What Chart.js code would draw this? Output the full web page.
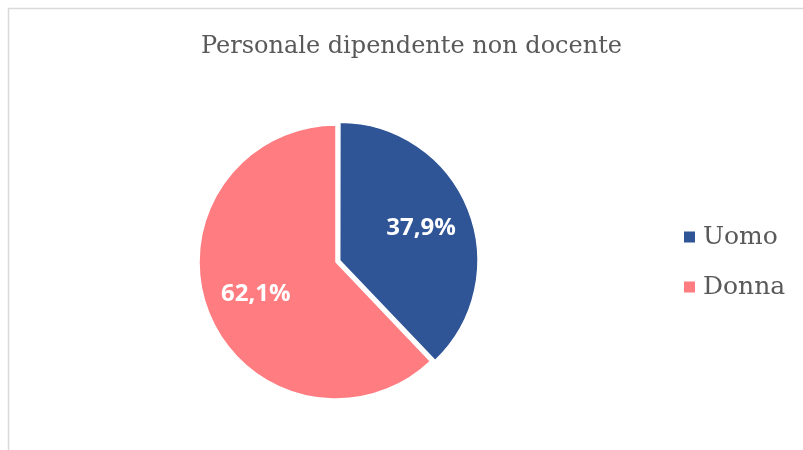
<!DOCTYPE html>
<html lang="it">
<head>
<meta charset="utf-8">
<title>Personale dipendente non docente</title>
<script src="https://cdn.jsdelivr.net/npm/chart.js@4.4.1/dist/chart.umd.min.js"></script>
<style>
  html, body { margin: 0; padding: 0; background: #fff; }
  #wrap { width: 803px; height: 450px; }
</style>
</head>
<body>
<div id="wrap"><canvas id="pie" width="803" height="450"></canvas></div>
<script>
// data
const chartTitle = 'Personale dipendente non docente';
const categories = ['Uomo', 'Donna'];
const shares = [37.9, 62.1];
const sliceColors = ['#2F5597', '#FF7C80'];
// Chart.js moves an arc by roughly a third of its "offset" value
const sliceOffsets = [16, 0];

const SERIF = '"DejaVu Serif", "Liberation Serif", serif';
const TEXT_GREY = '#595959';

function fmtPct(v) {
  return v.toFixed(1).replace('.', ',') + '%';
}

// same shift that ArcElement.draw applies for an offset
function arcShift(offset, circumference) {
  const fix = 1 - Math.sin(Math.min(Math.PI, circumference));
  return (offset / 4) * (1 + fix);
}

// frame, title, legend and slice labels drawn on the canvas
const decorations = {
  id: 'decorations',
  beforeDraw(chart) {
    const ctx = chart.ctx;
    ctx.save();
    ctx.strokeStyle = '#d9d9d9';
    ctx.lineWidth = 1.5;
    ctx.strokeRect(8.5, 8.5, 820, 460);
    ctx.restore();
  },
  afterDraw(chart) {
    const ctx = chart.ctx;
    ctx.save();

    // title
    ctx.fillStyle = TEXT_GREY;
    ctx.font = '24px ' + SERIF;
    ctx.textAlign = 'center';
    ctx.textBaseline = 'alphabetic';
    ctx.fillText(chartTitle, 411.5, 53);

    // legend
    ctx.font = '25px ' + SERIF;
    ctx.textAlign = 'left';
    categories.forEach((name, i) => {
      const cy = 237 + i * 50;
      ctx.fillStyle = sliceColors[i];
      ctx.fillRect(684, cy - 5.5, 11, 11);
      ctx.fillStyle = TEXT_GREY;
      ctx.fillText(name, 703, cy + 7);
    });

    // percentage labels inside the slices
    const meta = chart.getDatasetMeta(0);
    ctx.font = 'bold 24px "Open Sans", "DejaVu Sans", sans-serif';
    ctx.fillStyle = '#ffffff';
    ctx.textAlign = 'center';
    ctx.textBaseline = 'middle';
    meta.data.forEach((arc, i) => {
      const p = arc.getProps(['x', 'y', 'startAngle', 'endAngle', 'outerRadius', 'circumference']);
      const mid = (p.startAngle + p.endAngle) / 2;
      const r = p.outerRadius * 0.63 + arcShift(sliceOffsets[i], p.circumference);
      ctx.fillText(fmtPct(shares[i]), p.x + Math.cos(mid) * r, p.y + Math.sin(mid) * r);
    });

    ctx.restore();
  }
};

new Chart(document.getElementById('pie'), {
  type: 'pie',
  data: {
    labels: categories,
    datasets: [{
      data: shares,
      backgroundColor: sliceColors,
      borderColor: '#ffffff',
      borderWidth: 1.5,
      offset: sliceOffsets,
    }]
  },
  options: {
    responsive: false,
    animation: false,
    devicePixelRatio: 1,
    radius: 137,
    layout: { padding: { left: 60, right: 191, top: 90, bottom: 16 } },
    plugins: {
      legend: { display: false },
      title: { display: false },
      tooltip: { enabled: false }
    }
  },
  plugins: [decorations]
});
</script>
</body>
</html>
